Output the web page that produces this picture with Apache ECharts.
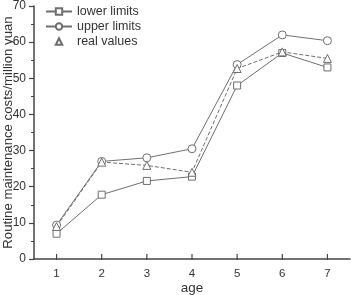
<!DOCTYPE html>
<html lang="en">
<head>
<meta charset="UTF-8">
<title>Routine maintenance costs</title>
<script src="https://cdn.jsdelivr.net/npm/echarts@6/dist/echarts.min.js"></script>
<style>
  html, body { margin: 0; padding: 0; background: #fff; }
  #Main { width: 351px; height: 295px; }
</style>
</head>
<body>
<div id="Main"></div>
<script type="text/javascript">
// data
var ages = [1, 2, 3, 4, 5, 6, 7];
var lowerLimits = [7, 17.8, 21.6, 22.8, 48, 57, 53];
var upperLimits = [9.4, 27, 28, 30.5, 53.8, 62, 60.4];
var realValues = [9, 26.8, 25.9, 24, 52.7, 57.3, 55.5];
var yTicks = [0, 10, 20, 30, 40, 50, 60, 70];

function pairs(vals) {
    var out = [];
    for (var i = 0; i < ages.length; i++) out.push([ages[i], vals[i]]);
    return out;
}

var myChart = echarts.init(document.getElementById('Main'));
var axisColor = '#444';
var lineColor = '#6e6e6e';
var markStyle = { color: '#fff', borderColor: lineColor, borderWidth: 1 };

myChart.setOption({
    animation: false,
    textStyle: { fontFamily: 'Liberation Sans, Arial, sans-serif' },
    grid: { left: 34, right: 1, top: 6, bottom: 36, outerBoundsMode: 'none', containLabel: false },
    legend: {
        orient: 'vertical',
        left: 40, top: 0,
        itemWidth: 26, itemHeight: 8, itemGap: 2,
        textStyle: { fontSize: 12.5, color: '#333' },
        data: [
            { name: 'lower limits' },
            { name: 'upper limits' },
            { name: 'real values', lineStyle: { opacity: 0 } }
        ]
    },
    xAxis: {
        type: 'value',
        min: 0.5, max: 7.5,
        name: 'age',
        nameLocation: 'middle',
        nameGap: 22,
        nameMoveOverlap: false,
        nameTextStyle: { fontSize: 13.5, color: '#333' },
        splitLine: { show: false },
        axisLine: { lineStyle: { color: axisColor, width: 1.5 } },
        axisTick: { show: false },
        axisLabel: {
            fontSize: 11.5, color: '#333', margin: 9,
            customValues: ages
        }
    },
    yAxis: {
        type: 'value',
        min: 0, max: 70, interval: 10,
        name: 'Routine maintenance costs/million yuan',
        nameLocation: 'middle',
        nameGap: 19,
        nameMoveOverlap: false,
        nameTextStyle: { fontSize: 13.2, color: '#333' },
        splitLine: { show: false },
        axisLine: { show: true, lineStyle: { color: axisColor, width: 1.5 } },
        axisTick: { show: true, length: 5, lineStyle: { color: axisColor, width: 1.2 } },
        minorTick: { show: true, splitNumber: 2, length: 3, lineStyle: { color: axisColor } },
        axisLabel: {
            fontSize: 12, color: '#333', margin: 8,
            customValues: yTicks
        }
    },
    series: [
        {
            name: 'lower limits', type: 'line', data: pairs(lowerLimits),
            symbol: 'rect', symbolSize: 7,
            itemStyle: markStyle,
            lineStyle: { color: lineColor, width: 1 }
        },
        {
            name: 'upper limits', type: 'line', data: pairs(upperLimits),
            symbol: 'circle', symbolSize: 8,
            itemStyle: markStyle,
            lineStyle: { color: lineColor, width: 1 }
        },
        {
            name: 'real values', type: 'line', data: pairs(realValues),
            symbol: 'triangle', symbolSize: 8,
            itemStyle: markStyle,
            lineStyle: { color: lineColor, width: 1, type: [4, 2] }
        }
    ]
});

// x ticks drawn up from the axis at each age
var xTickGraphics = [];
ages.forEach(function (a) {
    var p = myChart.convertToPixel({ gridIndex: 0 }, [a, 0]);
    xTickGraphics.push({
        type: 'line',
        shape: { x1: p[0], y1: p[1] - 5, x2: p[0], y2: p[1] + 1 },
        style: { stroke: axisColor, lineWidth: 1.2 }
    });
});
myChart.setOption({ graphic: xTickGraphics });

window.addEventListener('resize', function () { myChart.resize(); });
</script>
</body>
</html>
